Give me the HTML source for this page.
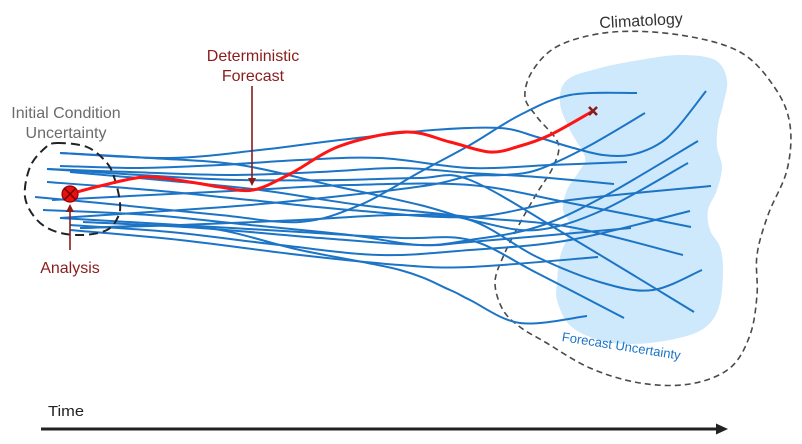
<!DOCTYPE html>
<html><head><meta charset="utf-8">
<style>
html,body{margin:0;padding:0;background:#fff;}
svg{display:block;}
text{font-family:"Liberation Sans",Arial,sans-serif;}
</style></head>
<body>
<svg id="s" width="802" height="444" viewBox="0 0 802 444" xmlns="http://www.w3.org/2000/svg">
<defs>
<marker id="ah" markerWidth="8" markerHeight="8" refX="6" refY="4" orient="auto" markerUnits="userSpaceOnUse">
<path d="M0,0 L8,4 L0,8 Z" fill="#8b1c1c"/>
</marker>
</defs>
<path id="blue" fill="#cde9fb" stroke="none"/>
<path id="clim" fill="none" stroke="#4a4a4a" stroke-width="1.6" stroke-dasharray="6 4"/>
<g id="ens" fill="none" stroke="#1c74c6" stroke-width="2"></g>
<path id="icu" fill="none" stroke="#222" stroke-width="2" stroke-dasharray="9 5"/>
<path id="red" fill="none" stroke="#ff1414" stroke-width="3"/>
<circle cx="70" cy="194" r="8" fill="#e81010" stroke="#9a0000" stroke-width="1.2"/>
<path d="M64.5,188.5 L75.5,199.5 M75.5,188.5 L64.5,199.5" stroke="#6a0000" stroke-width="1.4"/>
<path d="M589,107 L597,115 M597,107 L589,115" stroke="#8b1c1c" stroke-width="2.6"/>
<line x1="252" y1="86" x2="252" y2="184" stroke="#8b1c1c" stroke-width="1.6" marker-end="url(#ah)"/>
<line x1="70" y1="250" x2="70" y2="206" stroke="#8b1c1c" stroke-width="1.6" marker-end="url(#ah)"/>
<text x="66" y="118" font-size="16" fill="#6b6b6b" text-anchor="middle">Initial Condition</text>
<text x="66" y="138" font-size="16" fill="#6b6b6b" text-anchor="middle">Uncertainty</text>
<text x="253" y="61" font-size="16" fill="#8b1c1c" text-anchor="middle">Deterministic</text>
<text x="253" y="81" font-size="16" fill="#8b1c1c" text-anchor="middle">Forecast</text>
<text x="70" y="273" font-size="16" fill="#8b1c1c" text-anchor="middle">Analysis</text>
<text x="641" y="26" font-size="16" fill="#333" text-anchor="middle" transform="rotate(-3 641 20)">Climatology</text>
<text x="562" y="341" font-size="13" fill="#1c74c6" transform="rotate(9 562 337)">Forecast Uncertainty</text>
<text x="48" y="416" font-size="15" fill="#222" textLength="36" lengthAdjust="spacingAndGlyphs">Time</text>
<line x1="41" y1="429" x2="718" y2="429" stroke="#222" stroke-width="3"/>
<path d="M716,423.5 L728,429 L716,434.5 Z" fill="#222"/>
</svg>
<script>
function cr(pts,closed){
  var n=pts.length,d="M"+pts[0][0]+","+pts[0][1];
  var m=closed?n:n-1;
  for(var i=0;i<m;i++){
    var p0=closed?pts[(i-1+n)%n]:(pts[i-1]||pts[i]);
    var p1=pts[i],p2=pts[(i+1)%n];
    var p3=closed?pts[(i+2)%n]:(pts[i+2]||p2);
    var c1=[p1[0]+(p2[0]-p0[0])/6,p1[1]+(p2[1]-p0[1])/6];
    var c2=[p2[0]-(p3[0]-p1[0])/6,p2[1]-(p3[1]-p1[1])/6];
    d+="C"+c1[0].toFixed(1)+","+c1[1].toFixed(1)+" "+c2[0].toFixed(1)+","+c2[1].toFixed(1)+" "+p2[0]+","+p2[1];
  }
  if(closed)d+="Z";
  return d;
}
document.getElementById("blue").setAttribute("d",cr([[567,80],[600,68],[640,60],[680,55],[715,60],[727,80],[723,105],[718,125],[717,147],[722,167],[717,190],[708,210],[710,230],[720,247],[723,270],[720,303],[710,323],[690,335],[650,343],[613,343],[585,335],[567,322],[557,300],[557,283],[560,257],[570,227],[563,210],[567,190],[580,170],[585,157],[570,130],[560,103]],true));
document.getElementById("clim").setAttribute("d",cr([[525,97],[533,70],[560,45],[613,32],[680,35],[740,52],[775,88],[790,125],[787,170],[768,215],[757,255],[757,295],[750,335],[730,368],[690,384],[640,383],[590,368],[545,342],[520,327],[503,310],[495,283],[503,257],[520,223],[537,193],[553,167],[558,143],[537,117]],true));
document.getElementById("icu").setAttribute("d",cr([[57,143],[87,147],[107,163],[115,180],[120,203],[118,217],[107,230],[83,235],[57,232],[37,220],[25,197],[30,167],[45,148]],true));
document.getElementById("red").setAttribute("d",cr([[70,194],[100,186],[145,177],[190,182],[220,187],[253,190],[290,174],[340,146],[405,132],[450,142],[490,152],[520,146],[550,135],[593,111]],false));
var L=[
[[60,153],[150,158],[240,165],[330,185],[420,205],[480,222],[537,230],[603,210],[688,163]],
[[60,166],[140,168],[220,165],[300,160],[380,158],[470,168],[550,165],[627,162]],
[[47,169],[130,172],[230,175],[320,172],[400,168],[470,173],[537,177],[614,184]],
[[35,197],[120,205],[220,215],[300,222],[360,205],[420,172],[470,145],[520,115],[570,95],[637,93]],
[[60,153],[170,158],[260,150],[340,140],[433,130],[500,128],[537,137],[570,147],[603,155],[630,155],[657,145],[677,128],[706,91]],
[[60,218],[150,212],[250,205],[350,195],[430,185],[470,176],[503,175],[537,170],[587,147],[645,113]],
[[47,182],[150,190],[250,200],[350,210],[470,217],[570,200],[711,186]],
[[43,210],[150,215],[250,225],[350,235],[420,245],[470,240],[537,227],[603,197],[698,141]],
[[52,200],[150,195],[250,190],[350,185],[470,185],[570,203],[691,227]],
[[70,225],[170,232],[280,245],[380,255],[470,250],[570,240],[690,211]],
[[70,172],[160,180],[260,190],[360,205],[470,217],[570,227],[683,255]],
[[83,222],[200,228],[320,238],[420,245],[470,242],[631,228]],
[[70,230],[180,240],[300,255],[400,265],[470,267],[598,257]],
[[80,228],[180,225],[300,220],[400,215],[470,220],[537,257],[603,283],[653,290],[702,270]],
[[47,169],[140,175],[240,180],[340,180],[420,178],[470,180],[570,237],[694,312]],
[[60,218],[180,225],[300,232],[400,238],[470,240],[537,273],[624,318]],
[[80,228],[200,227],[300,250],[400,270],[450,290],[470,300],[520,323],[587,316]]
];
var g=document.getElementById("ens"),ns="http://www.w3.org/2000/svg";
L.forEach(function(p){var e=document.createElementNS(ns,"path");e.setAttribute("d",cr(p,false));g.appendChild(e);});
</script>
</body></html>
